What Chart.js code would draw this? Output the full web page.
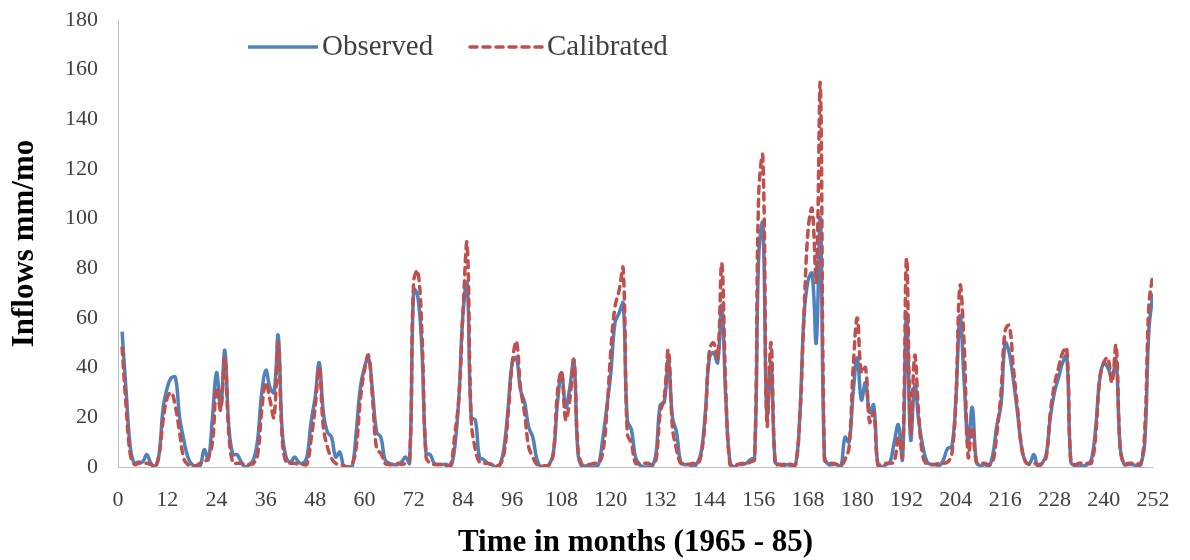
<!DOCTYPE html>
<html>
<head>
<meta charset="utf-8">
<script src="https://cdn.jsdelivr.net/npm/chart.js@4.4.0/dist/chart.umd.min.js"></script>
<style>
  html, body { margin: 0; padding: 0; background: #fff; }
  #wrap { width: 1190px; height: 560px; }
</style>
</head>
<body>
<div id="wrap"><canvas id="inflowChart" width="1190" height="560"></canvas></div>
<script>
// x tick labels (months) and y ticks
var monthTicks = [0, 12, 24, 36, 48, 60, 72, 84, 96, 108, 120, 132, 144, 156, 168, 180, 192, 204, 216, 228, 240, 252];
var inflowTicks = [0, 20, 40, 60, 80, 100, 120, 140, 160, 180];

// observed inflows, mm/mo, months 1..252
var observed = [
    54.5, 30, 8, 1.5, 2, 2, 5, 1.5, 0, 5, 24, 32,
    36, 36, 20, 11, 4, 1, 0.5, 0.5, 7, 3, 20, 38,
    24, 47, 16, 5, 5, 2, 0, 1, 3, 11, 30, 39,
    32, 30, 53, 14, 3.5, 2, 4, 2, 1.5, 4, 18, 28,
    42, 22, 14, 12, 4, 6, 0, 0, 0, 14, 32, 40,
    44, 30, 14, 12, 3, 1.5, 1, 1, 2, 4, 1.5, 71.5,
    68.6, 47, 5.5, 5, 1.5, 1, 1, 1, 0, 8, 28, 62,
    74, 20, 19, 4, 3, 1.5, 1, 0, 1, 8, 24, 42,
    44, 31, 26, 16, 12, 3, 0, 0, 1, 5.5, 25.6, 38,
    24, 32, 43, 5.5, 0, 0.5, 0, 0, 1, 11, 24, 38,
    58, 62, 66, 19, 15, 4, 1, 0, 0, 0, 5.5, 25,
    26, 43, 20, 14, 2, 1, 1, 0, 1.5, 6, 22, 44,
    46, 42, 65, 27, 2, 0, 1, 1, 1.5, 3, 4, 85,
    98, 20, 42, 2, 1, 0.5, 1, 0.5, 1, 20, 60, 75,
    78, 50, 100, 4, 1, 1, 1, 0, 12, 10, 30, 44,
    27, 34, 22, 25, 1, 0, 1, 2, 10, 17, 3, 62,
    11, 33, 18, 8, 2, 1, 1, 0.5, 3, 7.5, 8, 27,
    61, 35, 10, 24, 2, 0.5, 1, 0, 5, 17, 25, 50,
    46, 35, 22, 8, 2, 1.5, 5, 0, 1.5, 5, 20, 30,
    36, 42, 45, 2, 0.5, 0, 0.5, 1, 3, 15, 35, 42,
    40, 36, 43, 8, 1, 1, 1, 0.5, 1, 10, 55, 70
];

// calibrated model inflows, mm/mo, months 1..252
var calibrated = [
    48, 24, 5, 1, 1.5, 1.5, 1.5, 1, 0, 5, 19, 28,
    30, 24, 14, 3.5, 1, 0.5, 0.5, 1.5, 2, 4, 10, 32,
    23, 44, 13, 1.5, 1.5, 1.5, 1, 1, 1.5, 5, 23, 34,
    27, 20, 50, 11, 1.5, 1.5, 1.5, 1, 1, 1, 11, 24,
    40, 16, 8, 3.5, 1.5, 1, 0.5, 0, 1, 8, 27, 39,
    45, 27, 7, 5.5, 1.5, 1, 1, 1.5, 1, 1.5, 3, 75,
    79, 54, 4, 1.5, 1, 1, 1, 0.5, 1, 13, 28, 62,
    90, 19, 7, 2, 1.5, 1.5, 1, 0.5, 1, 5.5, 21.6, 42,
    50.5, 32, 21.6, 8, 4, 1, 0.5, 0.5, 1, 5.5, 30, 38.4,
    19, 27, 43, 7, 1, 1, 1, 1.5, 1.5, 5.5, 21.6, 47,
    64.5, 71, 80, 13.5, 9.5, 1.5, 1.5, 1.5, 1.5, 1, 3, 21.6,
    28, 47, 16, 7, 1.5, 1.5, 1, 1.5, 1, 5, 20, 47,
    50, 44, 82, 30, 1, 1, 1, 1.5, 1, 2, 3, 110,
    125, 17, 50, 1, 1, 1, 1.5, 1, 1, 20, 60, 95,
    104, 75, 154, 3, 1.5, 1.5, 1, 0.5, 3, 8, 40, 60,
    38, 40, 18, 22, 1, 1, 1.5, 1.5, 2, 12, 4, 84,
    14, 45, 20, 4, 1, 1, 1, 1.5, 1.5, 2, 5, 27,
    73, 50, 4, 16, 2, 1.5, 1.5, 1, 2, 14, 30, 55,
    57, 40, 24, 8, 2, 1, 1.5, 1, 1.5, 4, 22, 33,
    40, 46, 48, 2, 1, 1.5, 1.5, 1.5, 1.5, 12, 35, 42,
    44, 34, 49, 8, 1, 1.5, 1.5, 1.5, 1, 15, 65, 78
];

function toPoints(values) {
    return values.map(function (v, i) { return {x: i + 1, y: v}; });
}

var serif = "'Liberation Serif', 'Times New Roman', serif";

// legend drawn inside the plot, like the original
var insideLegend = {
    id: 'insideLegend',
    afterDraw: function (chart) {
        var ctx = chart.ctx;
        var area = chart.chartArea;
        var items = [
            {ds: chart.data.datasets[0], x0: area.left + 130, len: 70},
            {ds: chart.data.datasets[1], x0: area.left + 352, len: 73}
        ];
        var y = area.top + 27;
        ctx.save();
        items.forEach(function (it) {
            ctx.beginPath();
            ctx.lineWidth = it.ds.borderWidth;
            ctx.strokeStyle = it.ds.borderColor;
            ctx.lineCap = it.ds.borderCapStyle || 'butt';
            ctx.setLineDash(it.ds.borderDash || []);
            ctx.moveTo(it.x0, y);
            ctx.lineTo(it.x0 + it.len, y);
            ctx.stroke();
            ctx.setLineDash([]);
            ctx.fillStyle = '#404040';
            ctx.font = '29px ' + serif;
            ctx.textBaseline = 'middle';
            ctx.textAlign = 'left';
            ctx.fillText(it.ds.label, it.x0 + it.len + 4, y);
        });
        ctx.restore();
    }
};

var ctx1 = document.getElementById('inflowChart').getContext('2d');
new Chart(ctx1, {
    type: 'line',
    data: {
        datasets: [{
            label: 'Observed',
            data: toPoints(observed),
            borderColor: '#4F81BD',
            borderWidth: 3.5,
            pointRadius: 0,
            tension: 0.4,
            order: 2
        }, {
            label: 'Calibrated',
            data: toPoints(calibrated),
            borderColor: '#C0504D',
            borderWidth: 3.5,
            borderDash: [7, 6],
            borderCapStyle: 'round',
            pointRadius: 0,
            tension: 0.4,
            order: 1
        }]
    },
    options: {
        responsive: false,
        animation: false,
        layout: {padding: {top: 20, right: 37, left: 0, bottom: 0}},
        plugins: {
            legend: {display: false},
            tooltip: {enabled: false}
        },
        scales: {
            x: {
                type: 'linear',
                min: 0,
                max: 252,
                afterBuildTicks: function (axis) {
                    axis.ticks = monthTicks.map(function (v) { return {value: v}; });
                },
                afterFit: function (axis) { axis.height = 93; },
                ticks: {
                    padding: 20,
                    maxRotation: 0,
                    autoSkip: false,
                    color: '#404040',
                    font: {family: serif, size: 22}
                },
                grid: {display: true, drawOnChartArea: false, drawTicks: false},
                border: {display: true, color: '#BFBFBF', width: 1},
                title: {
                    display: true,
                    text: 'Time in months (1965 - 85)',
                    color: '#000',
                    padding: {top: 4, bottom: 0},
                    font: {family: serif, size: 31, weight: 'bold', lineHeight: 1.1}
                }
            },
            y: {
                min: 0,
                max: 180,
                afterBuildTicks: function (axis) {
                    axis.ticks = inflowTicks.map(function (v) { return {value: v}; });
                },
                afterFit: function (axis) {
                    axis.width = 118;
                    // tick padding would otherwise push the plot top down
                    axis.paddingTop = 0;
                    axis.paddingBottom = 0;
                },
                ticks: {
                    padding: 20,
                    color: '#404040',
                    font: {family: serif, size: 22}
                },
                grid: {display: true, drawOnChartArea: false, drawTicks: false},
                border: {display: true, color: '#BFBFBF', width: 1},
                title: {
                    display: true,
                    text: 'Inflows mm/mo',
                    color: '#000',
                    padding: {top: 6, bottom: 4},
                    font: {family: serif, size: 31, weight: 'bold', lineHeight: 1.2}
                }
            }
        }
    },
    plugins: [insideLegend]
});
</script>
</body>
</html>
